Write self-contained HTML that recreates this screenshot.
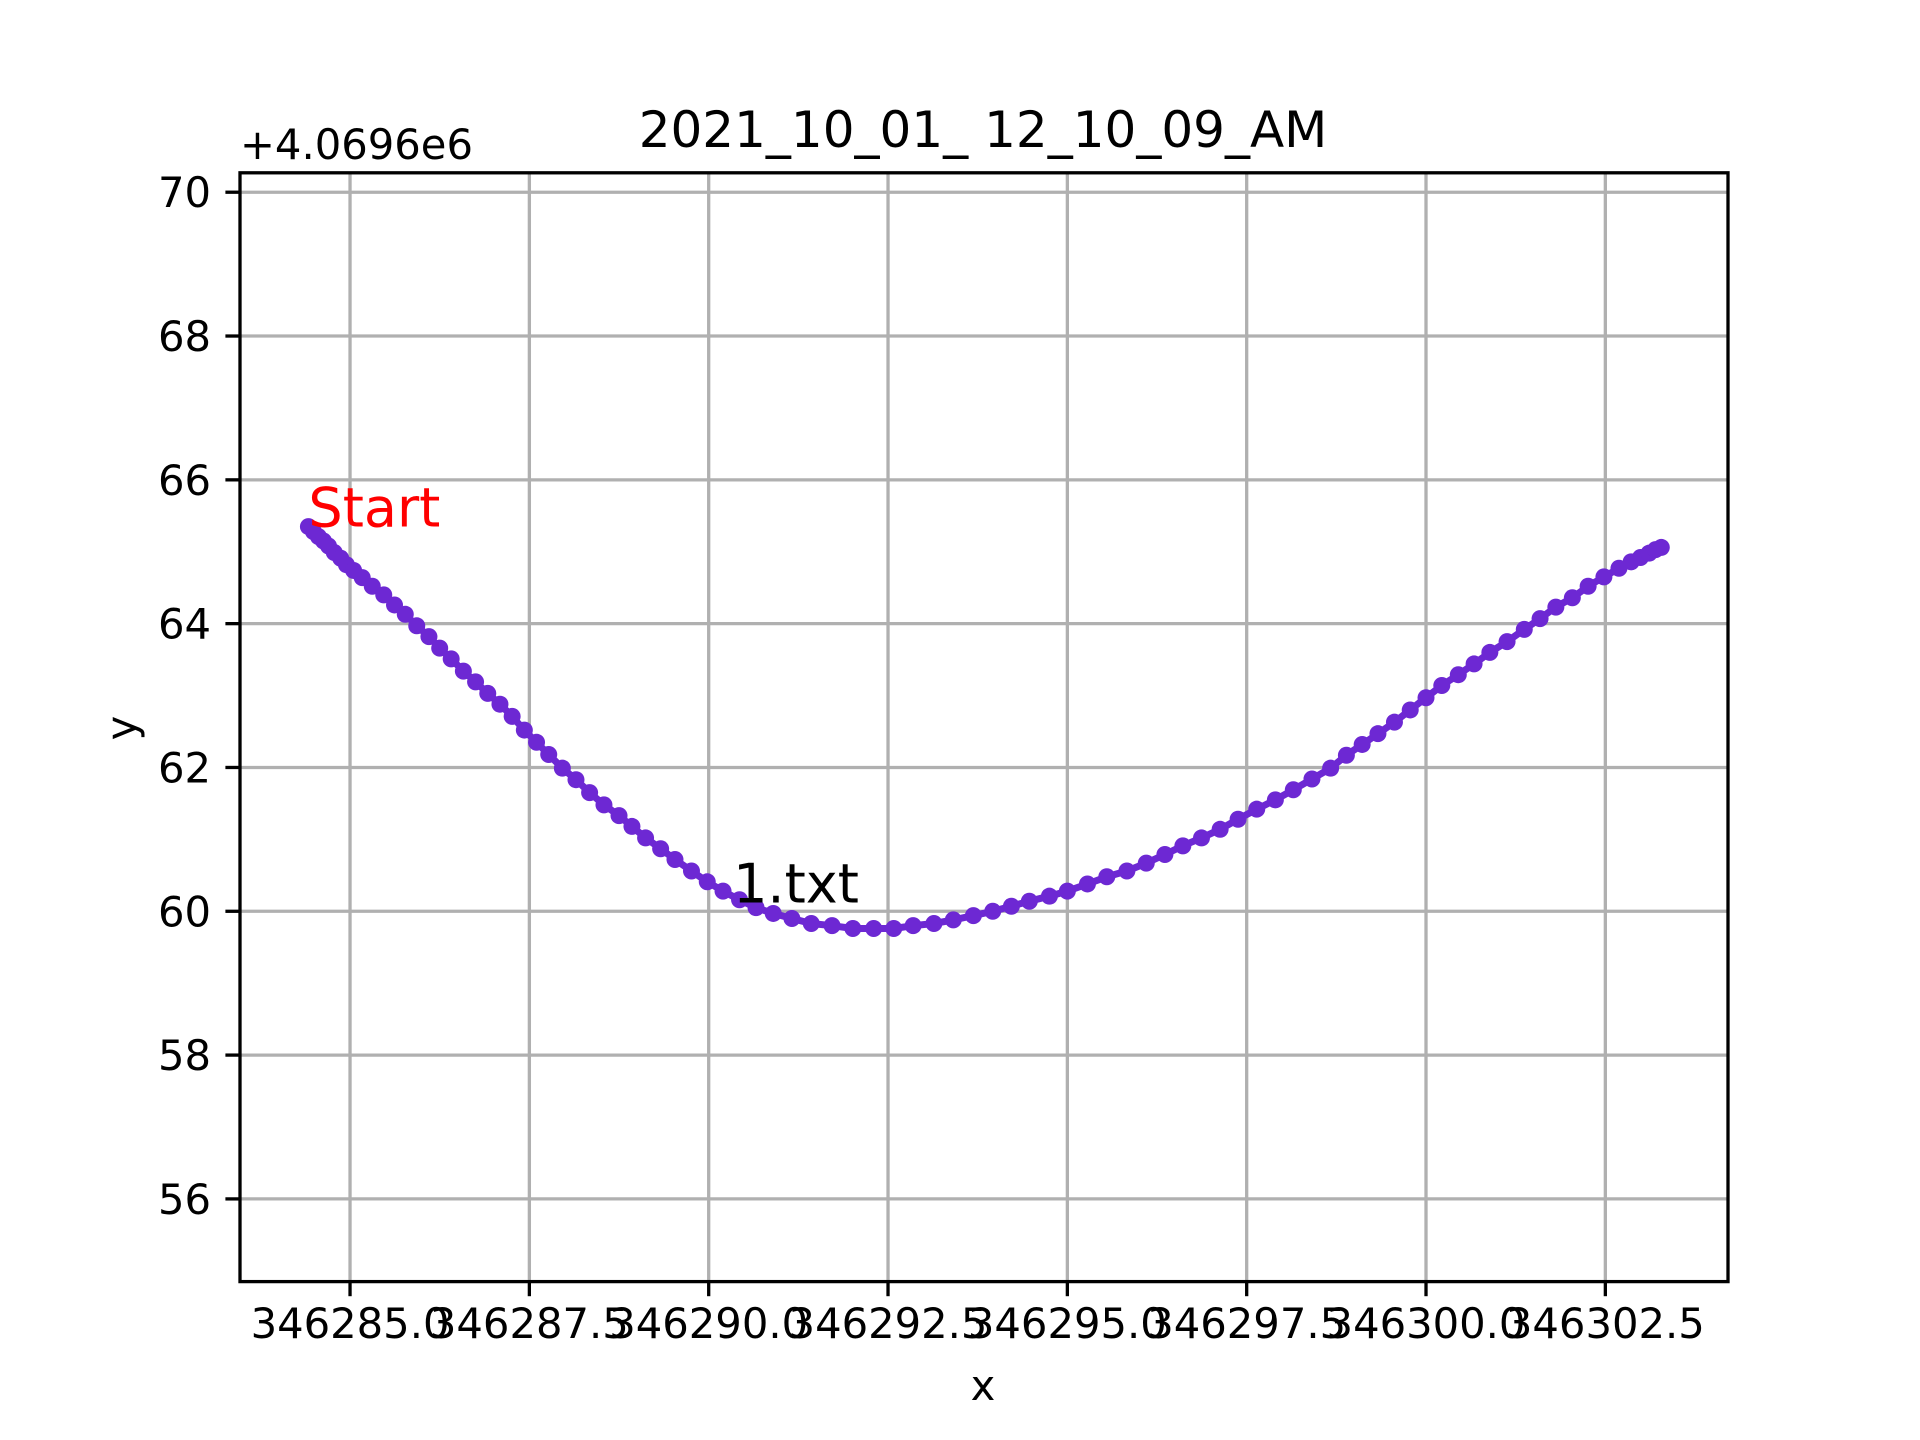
<!DOCTYPE html>
<html><head><meta charset="utf-8"><style>
html,body{margin:0;padding:0;background:#fff}
svg{display:block;font-family:"DejaVu Sans","Liberation Sans",sans-serif}
</style></head><body>
<svg id="chart" width="1920" height="1440" viewBox="0 0 1920 1440" xmlns="http://www.w3.org/2000/svg">
<rect width="1920" height="1440" fill="#fff"/>
<g id="grid"></g>
<g id="ticks"></g>
<g id="series"></g>
<rect x="240" y="172.8" width="1488" height="1108.8" fill="none" stroke="#000" stroke-width="3.3"/>
<text x="983" y="147" font-size="50" text-anchor="middle">2021_10_01_ 12_10_09_AM</text>
<text x="240" y="159" font-size="41.7">+4.0696e6</text>
<text x="983" y="1400" font-size="41.7" text-anchor="middle">x</text>
<text x="0" y="0" font-size="41.7" text-anchor="middle" transform="translate(136,728) rotate(-90)">y</text>
<g id="annot"></g>
</svg>
<script>
const xBase = 346285;
const yBase = 4069600;
const xTickValues = [346285.0,346287.5,346290.0,346292.5,346295.0,346297.5,346300.0,346302.5];
const xTickLabels = ["346285.0","346287.5","346290.0","346292.5","346295.0","346297.5","346300.0","346302.5"];
const yTickValues = [56,58,60,62,64,66,68,70];
const yTickLabels = ["56","58","60","62","64","66","68","70"];
const xOffsets = [-0.58,-0.51,-0.44,-0.37,-0.30,-0.22,-0.13,-0.05,0.05,0.17,0.31,0.47,0.62,0.77,0.93,1.10,1.25,1.41,1.58,1.75,1.92,2.09,2.26,2.43,2.60,2.77,2.96,3.15,3.34,3.54,3.75,3.93,4.12,4.33,4.53,4.76,4.98,5.20,5.43,5.66,5.90,6.16,6.43,6.72,7.01,7.30,7.58,7.85,8.14,8.41,8.69,8.96,9.22,9.47,9.75,10.00,10.28,10.55,10.83,11.10,11.36,11.61,11.87,12.13,12.38,12.64,12.90,13.15,13.41,13.67,13.89,14.11,14.33,14.56,14.78,15.00,15.22,15.45,15.67,15.89,16.13,16.37,16.59,16.81,17.04,17.26,17.48,17.69,17.86,17.99,18.11,18.20,18.28];
const yOffsets = [65.35,65.28,65.21,65.15,65.08,64.99,64.91,64.82,64.74,64.64,64.52,64.40,64.26,64.13,63.97,63.82,63.66,63.51,63.34,63.19,63.03,62.88,62.71,62.52,62.35,62.18,61.99,61.83,61.65,61.48,61.33,61.18,61.02,60.87,60.72,60.56,60.41,60.28,60.16,60.05,59.97,59.90,59.83,59.80,59.76,59.76,59.76,59.80,59.83,59.88,59.94,60.00,60.07,60.14,60.21,60.28,60.38,60.48,60.56,60.67,60.79,60.91,61.02,61.14,61.28,61.42,61.55,61.69,61.84,61.99,62.17,62.32,62.47,62.63,62.80,62.97,63.14,63.29,63.44,63.60,63.75,63.92,64.07,64.23,64.36,64.52,64.65,64.77,64.86,64.92,64.98,65.03,65.06];
const labelX = 5.34, labelY = 60.12, labelText = "1.txt";

const L=240,R=1728,T=172.8,B=1281.6;
const xMin=-1.534, xMax=19.21, yMin=54.85, yMax=70.27;
function sx(v){return L+(v-xMin)/(xMax-xMin)*(R-L);}
function sy(v){return B-(v-yMin)/(yMax-yMin)*(B-T);}
const NS="http://www.w3.org/2000/svg";
function mk(tag,attrs,parent){const e=document.createElementNS(NS,tag);for(const k in attrs)e.setAttribute(k,attrs[k]);parent.appendChild(e);return e;}
const grid=document.getElementById('grid'),ticks=document.getElementById('ticks'),series=document.getElementById('series'),annot=document.getElementById('annot');
xTickValues.forEach((v,i)=>{
  const x=sx(v-xBase);
  const g=mk('line',{x1:x,x2:x,y1:T,y2:B,stroke:'#b0b0b0','stroke-width':3.3},grid);
  
  
  const t=mk('line',{x1:x,x2:x,y1:B,y2:B+14.6,stroke:'#000','stroke-width':3.3},ticks);
  
  
  const tx=mk('text',{x:x,y:1338,'font-size':41.7,'text-anchor':'middle'},ticks);
  tx.textContent=xTickLabels[i];
  
  
});
yTickValues.forEach((v,i)=>{
  const y=sy(v);
  const g=mk('line',{x1:L,x2:R,y1:y,y2:y,stroke:'#b0b0b0','stroke-width':3.3},grid);
  
  
  const t=mk('line',{x1:L-14.6,x2:L,y1:y,y2:y,stroke:'#000','stroke-width':3.3},ticks);
  
  
  const tx=mk('text',{x:211,y:y+15,'font-size':41.7,'text-anchor':'end'},ticks);
  tx.textContent=yTickLabels[i];
  
  
});
const pts=xOffsets.map((v,i)=>sx(v).toFixed(1)+','+sy(yOffsets[i]).toFixed(1)).join(' ');
const pl=mk('polyline',{points:pts,fill:'none',stroke:'#6d28d3','stroke-width':7,'stroke-linejoin':'round'},series);


xOffsets.forEach((v,i)=>{
  const c=mk('circle',{cx:sx(v),cy:sy(yOffsets[i]),r:8.5,fill:'#6d28d3'},series);
  
  
});
const st=mk('text',{x:sx(xOffsets[0]),y:sy(yOffsets[0]),'font-size':54,fill:'#ff0000'},annot);
st.textContent='Start';


const ft=mk('text',{x:sx(labelX),y:sy(labelY),'font-size':54,fill:'#000'},annot);
ft.textContent=labelText;


</script>
</body></html>
